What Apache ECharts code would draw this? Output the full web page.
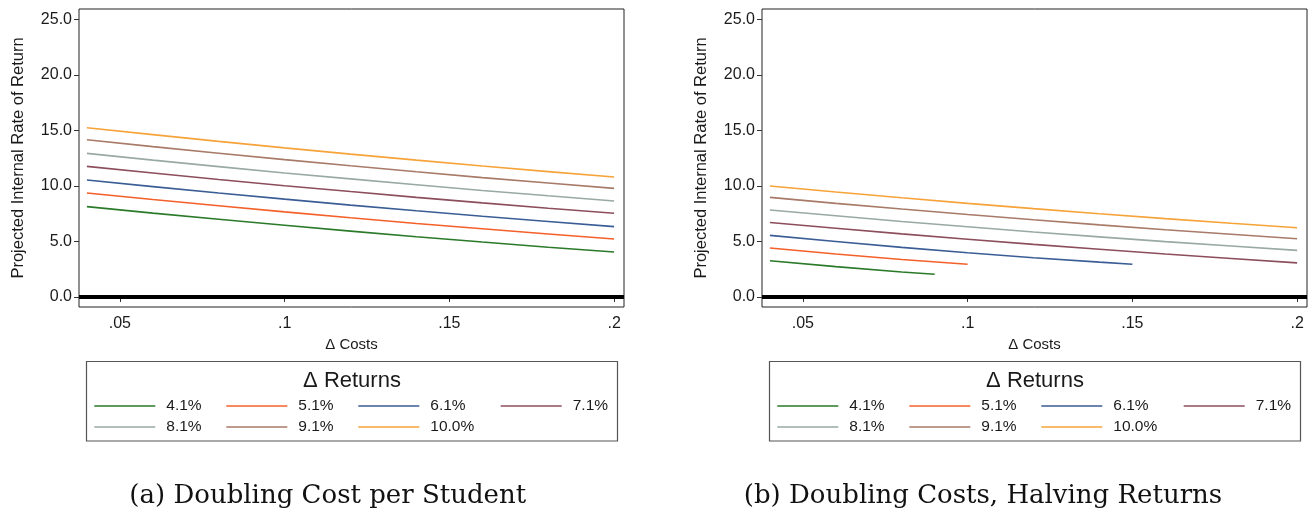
<!DOCTYPE html>
<html>
<head>
<meta charset="utf-8">
<title>Projected IRR sensitivity</title>
<script src="https://cdn.jsdelivr.net/npm/echarts@6/dist/echarts.min.js"></script>
<style>
  html, body { margin: 0; padding: 0; background: #ffffff; }
  #chart { width: 1311px; height: 510px; }
</style>
</head>
<body>
<div id="chart"></div>
<script>
// ---- data -------------------------------------------------------------
const returnLabels = ['4.1%', '5.1%', '6.1%', '7.1%', '8.1%', '9.1%', '10.0%'];
const lineColors = ['#2a7a2a', '#f4602a', '#3a5d95', '#8c4d5c', '#98a9a6', '#a87a68', '#f6a33a'];

const yTickValues = [0, 5, 10, 15, 20, 25];
const xTickValues = [0.05, 0.1, 0.15, 0.2];
const xTickLabels = ['.05', '.1', '.15', '.2'];

// (a) doubling cost per student
const costA = [0.04, 0.06, 0.08, 0.10, 0.12, 0.14, 0.16, 0.18, 0.20];
const irrA_41 = [8.14, 7.56, 7.00, 6.46, 5.94, 5.43, 4.95, 4.49, 4.05];
const irrA_51 = [9.37, 8.78, 8.22, 7.67, 7.14, 6.63, 6.15, 5.68, 5.23];
const irrA_61 = [10.54, 9.95, 9.37, 8.82, 8.28, 7.77, 7.27, 6.80, 6.34];
const irrA_71 = [11.77, 11.17, 10.59, 10.03, 9.50, 8.98, 8.48, 8.00, 7.54];
const irrA_81 = [12.94, 12.33, 11.75, 11.18, 10.64, 10.11, 9.60, 9.12, 8.65];
const irrA_91 = [14.17, 13.55, 12.96, 12.38, 11.82, 11.28, 10.76, 10.27, 9.79];
const irrA_100 = [15.25, 14.63, 14.02, 13.44, 12.87, 12.33, 11.80, 11.30, 10.81];

// (b) doubling costs, halving returns
const costB_41 = [0.04, 0.06, 0.08, 0.09];
const costB_51 = [0.04, 0.06, 0.08, 0.10];
const costB_61 = [0.04, 0.06, 0.08, 0.10, 0.12, 0.14, 0.15];
const costB = [0.04, 0.06, 0.08, 0.10, 0.12, 0.14, 0.16, 0.18, 0.20];
const irrB_41 = [3.27, 2.74, 2.26, 2.05];
const irrB_51 = [4.41, 3.87, 3.38, 2.95];
const irrB_61 = [5.55, 5.00, 4.47, 3.99, 3.54, 3.14, 2.95];
const irrB_71 = [6.72, 6.20, 5.69, 5.21, 4.74, 4.30, 3.87, 3.47, 3.08];
const irrB_81 = [7.84, 7.32, 6.81, 6.33, 5.86, 5.42, 4.99, 4.59, 4.20];
const irrB_91 = [8.98, 8.44, 7.93, 7.43, 6.96, 6.50, 6.06, 5.65, 5.25];
const irrB_100 = [10.00, 9.46, 8.94, 8.44, 7.96, 7.50, 7.06, 6.64, 6.24];

// ---- helpers ----------------------------------------------------------
const SANS = "'Liberation Sans', Arial, Helvetica, sans-serif";
const SERIF = "'DejaVu Serif', 'Liberation Serif', serif";
const INK = '#1a1a1a';

const pairs = (xs, ys) => xs.map((x, i) => [x, ys[i]]);

const panelA = [
  pairs(costA, irrA_41), pairs(costA, irrA_51), pairs(costA, irrA_61),
  pairs(costA, irrA_71), pairs(costA, irrA_81), pairs(costA, irrA_91),
  pairs(costA, irrA_100)
];
const panelB = [
  pairs(costB_41, irrB_41), pairs(costB_51, irrB_51), pairs(costB_61, irrB_61),
  pairs(costB, irrB_71), pairs(costB, irrB_81), pairs(costB, irrB_91),
  pairs(costB, irrB_100)
];

// plot frames (px)
const frames = [
  { left: 79, top: 9, width: 545, height: 298 },
  { left: 762, top: 9, width: 545, height: 298 }
];

function makeXAxis(gridIndex) {
  return {
    type: 'value', gridIndex: gridIndex,
    min: 0.0376, max: 0.2030,
    name: 'Δ Costs', nameLocation: 'middle', nameGap: 28,
    nameTextStyle: { fontFamily: SANS, fontSize: 15, color: INK },
    axisLine: { show: false },
    axisTick: { show: true, length: 5, customValues: xTickValues, lineStyle: { color: '#333', width: 1 } },
    axisLabel: {
      customValues: xTickValues, margin: 9,
      fontFamily: SANS, fontSize: 16, color: INK,
      formatter: v => {
        const i = xTickValues.findIndex(t => Math.abs(t - v) < 1e-9);
        return i >= 0 ? xTickLabels[i] : '';
      }
    },
    splitLine: { show: false }
  };
}

function makeYAxis(gridIndex) {
  return {
    type: 'value', gridIndex: gridIndex,
    min: -0.9, max: 25.95,
    name: 'Projected Internal Rate of Return', nameLocation: 'middle', nameGap: 52, nameRotate: 90,
    nameTextStyle: { fontFamily: SANS, fontSize: 16.5, color: INK },
    axisLine: { show: false },
    axisTick: { show: true, length: 5, customValues: yTickValues, lineStyle: { color: '#333', width: 1 } },
    axisLabel: {
      customValues: yTickValues, margin: 7,
      fontFamily: SANS, fontSize: 16, color: INK,
      formatter: v => v.toFixed(1)
    },
    splitLine: { show: false }
  };
}

const series = [];
[panelA, panelB].forEach((panel, p) => {
  panel.forEach((data, i) => {
    series.push({
      type: 'line', name: returnLabels[i],
      xAxisIndex: p, yAxisIndex: p,
      data: data, symbol: 'none', smooth: false,
      lineStyle: { color: lineColors[i], width: 1.6 },
      itemStyle: { color: lineColors[i] },
      silent: true, z: 3,
      markLine: i === 0 ? {
        silent: true, symbol: 'none', label: { show: false },
        lineStyle: { color: '#000', width: 4, type: 'solid' },
        data: [{ yAxis: 0 }]
      } : undefined
    });
  });
});

// legend rows: fixed text widths keep the columns aligned between rows
const colTextW = [45, 45, 55.4, 45];
const KEY_ICON = 'path://M0,0H61V1.6H0Z';
function legendRow(names, cols, left, top) {
  return {
    left: left, top: top, orient: 'horizontal',
    width: 530, padding: 0,
    icon: KEY_ICON,
    itemWidth: 61, itemHeight: 14, itemGap: 15,
    selectedMode: false,
    data: names.map((n, k) => ({ name: n, textStyle: { width: colTextW[cols[k]] } })),
    textStyle: { fontFamily: SANS, fontSize: 15.5, color: INK, lineHeight: 14, padding: [0, 0, 0, 6] }
  };
}

const legendBoxes = [
  { x: 86.5, y: 361.5, w: 531, h: 79.5, cx: 352, keyLeft: 94.3 },
  { x: 769.5, y: 361.5, w: 531, h: 79.5, cx: 1035, keyLeft: 777.3 }
];

const legends = [];
legendBoxes.forEach(b => {
  legends.push(legendRow(returnLabels.slice(0, 4), [0, 1, 2, 3], b.keyLeft, 398));
  legends.push(legendRow(returnLabels.slice(4), [0, 1, 2], b.keyLeft, 419));
});

const titles = [];
legendBoxes.forEach(b => {
  titles.push({
    text: 'Δ Returns', left: b.cx, top: 370, textAlign: 'center', padding: 0,
    textStyle: { fontFamily: SANS, fontSize: 22, fontWeight: 'normal', color: INK }
  });
});
titles.push({
  text: '(a) Doubling Cost per Student', left: 327.75, top: 483, textAlign: 'center', padding: 0,
  textStyle: { fontFamily: SERIF, fontSize: 26, fontWeight: 'normal', color: '#111' }
});
titles.push({
  text: '(b) Doubling Costs, Halving Returns', left: 983, top: 483, textAlign: 'center', padding: 0,
  textStyle: { fontFamily: SERIF, fontSize: 26, fontWeight: 'normal', color: '#111' }
});

const chart = echarts.init(document.getElementById('chart'), null, { renderer: 'canvas' });
chart.setOption({
  backgroundColor: '#ffffff',
  animation: false,
  title: titles,
  grid: frames.map(f => ({
    left: f.left, top: f.top, width: f.width, height: f.height,
    show: true, borderColor: '#222', borderWidth: 1, backgroundColor: 'transparent',
    containLabel: false
  })),
  xAxis: [makeXAxis(0), makeXAxis(1)],
  yAxis: [makeYAxis(0), makeYAxis(1)],
  legend: legends,
  graphic: legendBoxes.map(b => ({
    type: 'rect', silent: true, z: 0,
    shape: { x: b.x, y: b.y, width: b.w, height: b.h },
    style: { fill: 'transparent', stroke: '#555', lineWidth: 1.2 }
  })),
  series: series
});
</script>
</body>
</html>
